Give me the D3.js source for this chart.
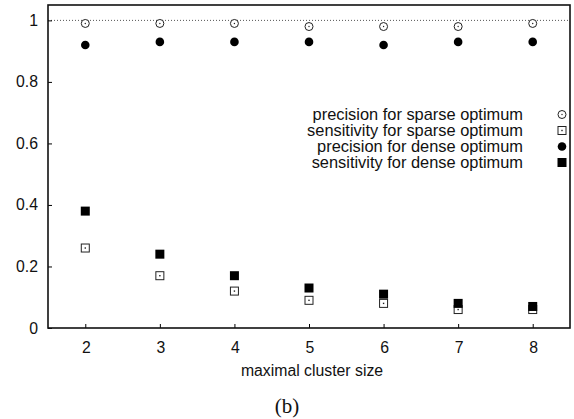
<!DOCTYPE html>
<html>
<head>
<meta charset="utf-8">
<script src="https://cdn.jsdelivr.net/npm/d3@7"></script>
<style>
  body { margin: 0; background: #fff; }
  svg { display: block; }
</style>
</head>
<body>
<div id="chart"></div>
<script>
(function() {
    var clusterSizes = [2, 3, 4, 5, 6, 7, 8];
    var precisionSparse = [0.99, 0.99, 0.99, 0.98, 0.98, 0.98, 0.99];
    var sensitivitySparse = [0.26, 0.17, 0.12, 0.09, 0.08, 0.06, 0.06];
    var precisionDense = [0.92, 0.93, 0.93, 0.93, 0.92, 0.93, 0.93];
    var sensitivityDense = [0.38, 0.24, 0.17, 0.13, 0.11, 0.08, 0.07];
    var yTicks = [0, 0.2, 0.4, 0.6, 0.8, 1];
    var seriesNames = [
        "precision for sparse optimum",
        "sensitivity for sparse optimum",
        "precision for dense optimum",
        "sensitivity for dense optimum"
    ];

    var width = 574, height = 419;
    var margin = { top: 5, right: 4, bottom: 91, left: 48 };
    var innerW = width - margin.left - margin.right,
        innerH = height - margin.top - margin.bottom;
    var fontSize = 15.8;

    var svg = d3.select("#chart")
        .append("svg")
        .attr("width", width)
        .attr("height", height)
        .style("font-family", "Liberation Sans, Arial, sans-serif");

    var g = svg.append("g")
        .attr("transform", "translate(" + margin.left + "," + margin.top + ")");

    var x = d3.scaleLinear().domain([1.5, 8.5]).range([0, innerW]);
    var y = d3.scaleLinear().domain([0, 1.05]).range([innerH, 0]);

    // dotted reference line at 1
    g.append("line")
        .attr("x1", 0).attr("x2", innerW)
        .attr("y1", y(1)).attr("y2", y(1))
        .attr("stroke", "#555")
        .attr("stroke-width", 1)
        .attr("stroke-dasharray", "1,2");

    // axes with inward ticks
    var yAxis = g.append("g")
        .call(d3.axisRight(y).tickValues(yTicks).tickSize(4).tickFormat(""));
    yAxis.select(".domain").remove();

    var xAxis = g.append("g")
        .attr("transform", "translate(0," + innerH + ")")
        .call(d3.axisTop(x).tickValues(clusterSizes).tickSize(4).tickFormat(""));
    xAxis.select(".domain").remove();

    g.selectAll(".ylab")
        .data(yTicks)
        .enter().append("text")
        .attr("class", "ylab")
        .attr("x", -10)
        .attr("y", d => y(d))
        .attr("dy", "0.35em")
        .attr("text-anchor", "end")
        .attr("font-size", fontSize)
        .attr("fill", "#111")
        .text(d => d3.format("")(d));

    g.selectAll(".xlab")
        .data(clusterSizes)
        .enter().append("text")
        .attr("class", "xlab")
        .attr("x", d => x(d) + 1)
        .attr("y", innerH + 19)
        .attr("dy", "0.35em")
        .attr("text-anchor", "middle")
        .attr("font-size", fontSize)
        .attr("fill", "#111")
        .text(d => d);

    // frame
    g.append("rect")
        .attr("width", innerW)
        .attr("height", innerH)
        .attr("fill", "none")
        .attr("stroke", "#111")
        .attr("stroke-width", 1.6);

    g.append("text")
        .attr("x", 264)
        .attr("y", innerH + 48)
        .attr("text-anchor", "middle")
        .attr("font-size", fontSize)
        .attr("fill", "#111")
        .text("maximal cluster size");

    svg.append("text")
        .attr("x", 287)
        .attr("y", 413)
        .attr("text-anchor", "middle")
        .attr("font-family", "Liberation Serif, Times New Roman, serif")
        .attr("font-size", 21)
        .attr("fill", "#111")
        .text("(b)");

    // marker drawers
    function openCircle(sel) {
        sel.append("circle").attr("r", 4).attr("fill", "#fff")
            .attr("stroke", "#222").attr("stroke-width", 1);
        sel.append("circle").attr("r", 0.7).attr("fill", "#222");
    }
    function openSquare(sel) {
        sel.append("rect").attr("x", -4).attr("y", -4).attr("width", 8).attr("height", 8)
            .attr("fill", "#fff").attr("stroke", "#222").attr("stroke-width", 1);
        sel.append("rect").attr("x", -0.7).attr("y", -0.7).attr("width", 1.4).attr("height", 1.4)
            .attr("fill", "#222");
    }
    function filledCircle(sel) {
        sel.append("circle").attr("r", 4.3).attr("fill", "#000");
    }
    function filledSquare(sel) {
        sel.append("rect").attr("x", -4.5).attr("y", -4.5).attr("width", 9).attr("height", 9)
            .attr("fill", "#000");
    }

    var series = [
        { values: precisionSparse, draw: openCircle },
        { values: sensitivitySparse, draw: openSquare },
        { values: precisionDense, draw: filledCircle },
        { values: sensitivityDense, draw: filledSquare }
    ];

    series.forEach(function(s, i) {
        g.selectAll(".pt" + i)
            .data(clusterSizes.map((c, j) => ({ x: c, y: s.values[j] })))
            .enter().append("g")
            .attr("class", "pt" + i)
            .attr("transform", d => "translate(" + x(d.x) + "," + y(d.y) + ")")
            .call(s.draw);
    });

    // legend
    var legend = svg.append("g");
    seriesNames.forEach(function(name, i) {
        var ly = 114.5 + i * 16;
        legend.append("text")
            .attr("x", 523)
            .attr("y", ly)
            .attr("dy", "0.35em")
            .attr("text-anchor", "end")
            .attr("font-size", 16.4)
            .attr("fill", "#111")
            .text(name);
        legend.append("g")
            .attr("transform", "translate(562," + ly + ")")
            .call(series[i].draw);
    });
})();
</script>
</body>
</html>
